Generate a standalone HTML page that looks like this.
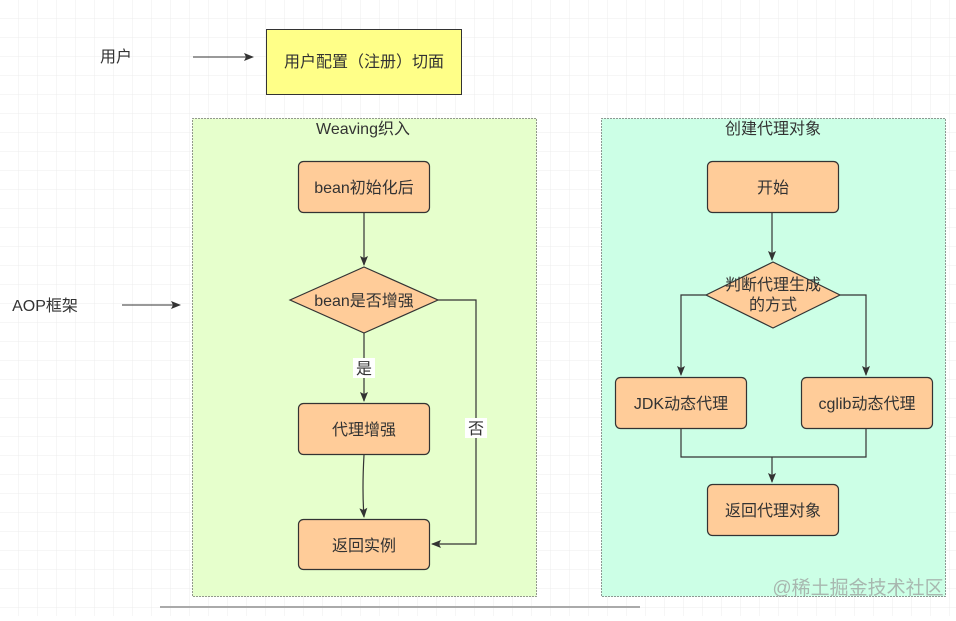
<!DOCTYPE html>
<html><head><meta charset="utf-8"><style>
html,body{margin:0;padding:0;background:#fff}
svg text{font-family:"Liberation Sans","Noto Sans CJK SC",sans-serif;fill:#333}
</style></head><body>
<svg width="956" height="616" viewBox="0 0 956 616" xmlns="http://www.w3.org/2000/svg">
<defs>
<pattern id="g" width="19" height="19" patternUnits="userSpaceOnUse">
<path d="M19 0V19M0 19H19" stroke="#ececec" stroke-width="1" fill="none"/>
</pattern>
<marker id="a" markerWidth="10" markerHeight="8" refX="9" refY="4" orient="auto" markerUnits="userSpaceOnUse">
<path d="M0,0 L10,4 L0,8 L2,4 Z" fill="#333"/>
</marker>
</defs>
<rect width="956" height="616" fill="url(#g)"/>
<g font-size="16">
<text x="116" y="62" text-anchor="middle">用户</text>
<line x1="193" y1="57" x2="253" y2="57" stroke="#333" marker-end="url(#a)"/>
<rect x="266.5" y="29.5" width="195" height="65" fill="#ffff88" stroke="#333"/>
<text x="364" y="67" text-anchor="middle">用户配置（注册）切面</text>
<text x="45" y="311" text-anchor="middle">AOP框架</text>
<line x1="122" y1="305" x2="180" y2="305" stroke="#333" marker-end="url(#a)"/>

<rect x="192.5" y="118.5" width="344" height="478" fill="#e6ffcc" stroke="#333" stroke-dasharray="1,2"/>
<text x="363" y="134" text-anchor="middle">Weaving织入</text>
<rect x="601.5" y="118.5" width="344" height="478" fill="#ccffe6" stroke="#333" stroke-dasharray="1,2"/>
<text x="773" y="134" text-anchor="middle">创建代理对象</text>

<g fill="#ffcc99" stroke="#333" stroke-width="1.2">
<rect x="298.5" y="161.5" width="131" height="51" rx="5"/>
<polygon points="290,300 364,267 438,300 364,333"/>
<rect x="298.5" y="403.5" width="131" height="51" rx="5"/>
<rect x="298.5" y="519.5" width="131" height="50" rx="5"/>
<rect x="707.5" y="161.5" width="131" height="51" rx="5"/>
<polygon points="706,295 773,262 840,295 773,328"/>
<rect x="615.5" y="377.5" width="131" height="51" rx="5"/>
<rect x="801.5" y="377.5" width="131" height="51" rx="5"/>
<rect x="707.5" y="484.5" width="131" height="51" rx="5"/>
</g>
<g fill="none" stroke="#333" stroke-width="1.2">
<path d="M364 213V265" marker-end="url(#a)"/>
<path d="M364 333V401" marker-end="url(#a)"/>
<path d="M364 455Q362 490 364 517" marker-end="url(#a)"/>
<path d="M438 300H476V544H432" marker-end="url(#a)"/>
<path d="M772 213V260" marker-end="url(#a)"/>
<path d="M706 295H681V375" marker-end="url(#a)"/>
<path d="M840 295H866V375" marker-end="url(#a)"/>
<path d="M681 429V457H866V429"/>
<path d="M772 457V482" marker-end="url(#a)"/>
</g>
<rect x="353" y="358" width="22" height="20" fill="#fff"/>
<text x="364" y="374" text-anchor="middle">是</text>
<rect x="465" y="418" width="22" height="20" fill="#fff"/>
<text x="476" y="434" text-anchor="middle">否</text>

<text x="364" y="193" text-anchor="middle">bean初始化后</text>
<text x="364" y="306" text-anchor="middle">bean是否增强</text>
<text x="364" y="435" text-anchor="middle">代理增强</text>
<text x="364" y="551" text-anchor="middle">返回实例</text>
<text x="773" y="193" text-anchor="middle">开始</text>
<text x="773" y="290" text-anchor="middle">判断代理生成</text>
<text x="773" y="310" text-anchor="middle">的方式</text>
<text x="681" y="409" text-anchor="middle">JDK动态代理</text>
<text x="867" y="409" text-anchor="middle">cglib动态代理</text>
<text x="773" y="516" text-anchor="middle">返回代理对象</text>
</g>
<text x="858" y="594" text-anchor="middle" font-size="19" style="fill:#999;opacity:.7">@稀土掘金技术社区</text>
<line x1="160" y1="607" x2="640" y2="607" stroke="#aaa" stroke-width="2"/>
</svg>
</body></html>
